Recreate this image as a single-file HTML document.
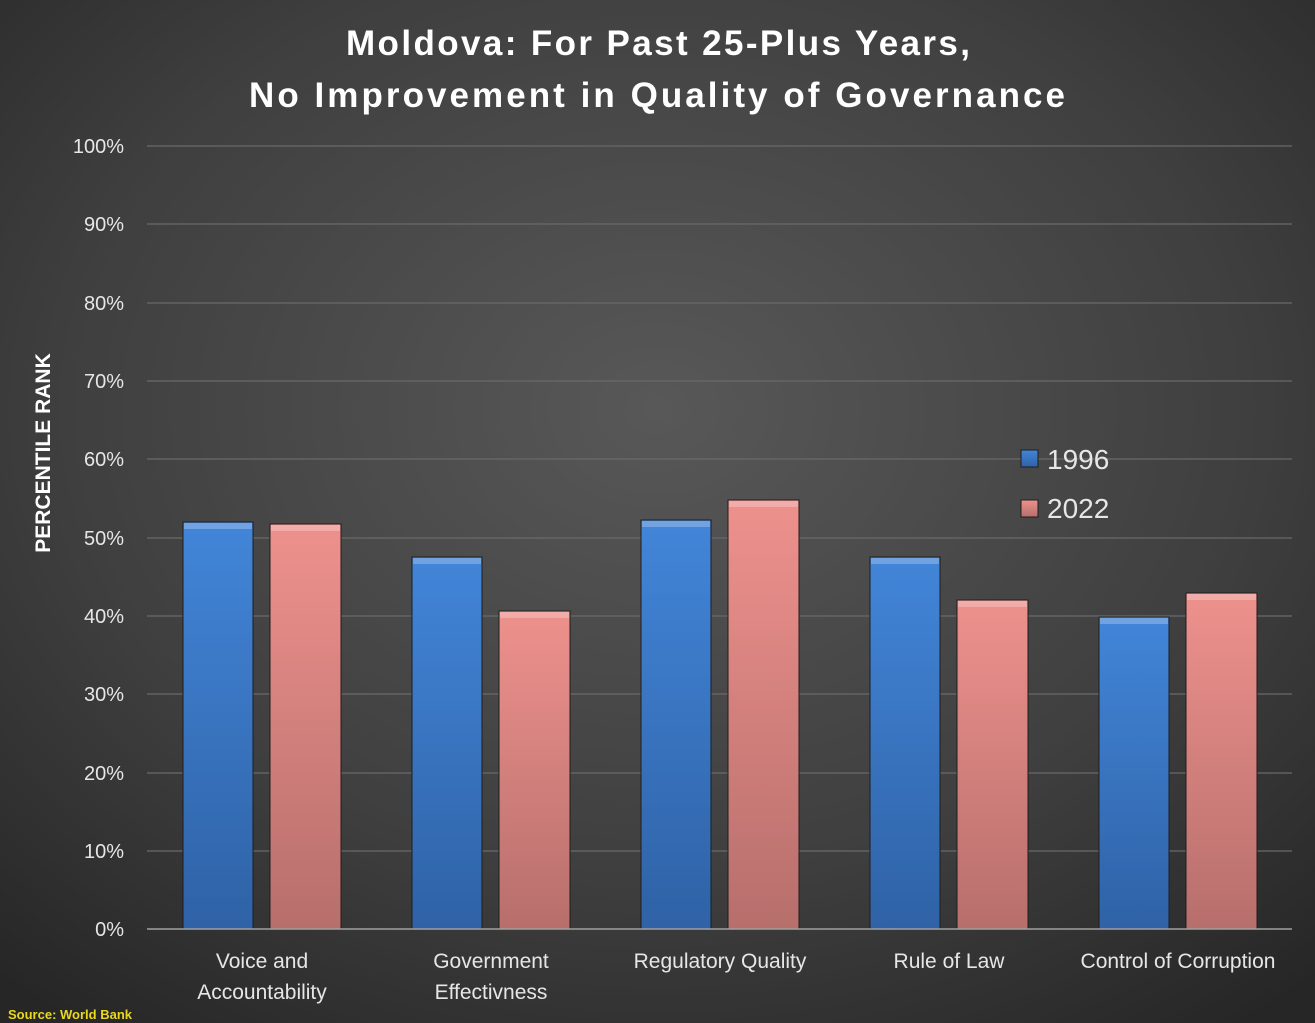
<!DOCTYPE html>
<html><head><meta charset="utf-8"><style>
html,body{margin:0;padding:0;width:1315px;height:1023px;overflow:hidden;background:#333}
svg{display:block}
text{font-family:"Liberation Sans",sans-serif}
</style></head><body>
<svg width="1315" height="1023" viewBox="0 0 1315 1023" xmlns="http://www.w3.org/2000/svg">
<defs>
<radialGradient id="bg" cx="50%" cy="40%" r="75%">
<stop offset="0" stop-color="#585858"/><stop offset="0.6" stop-color="#3f3f3f"/><stop offset="1" stop-color="#262626"/>
</radialGradient>
<linearGradient id="bl" x1="0" y1="0" x2="0" y2="1"><stop offset="0" stop-color="#4285d8"/><stop offset="1" stop-color="#2f62a6"/></linearGradient>
<linearGradient id="pk" x1="0" y1="0" x2="0" y2="1"><stop offset="0" stop-color="#ee918d"/><stop offset="1" stop-color="#b76f6c"/></linearGradient>
</defs>
<rect width="1315" height="1023" fill="url(#bg)"/>
<g font-weight="bold" font-size="35" fill="#fff">
<text x="346" y="55" textLength="624" lengthAdjust="spacing">Moldova: For Past 25-Plus Years,</text>
<text x="249" y="107" textLength="816" lengthAdjust="spacing">No Improvement in Quality of Governance</text>
</g>
<g stroke="#6a6a6a" stroke-width="1.3">
<line x1="147" x2="1292" y1="146" y2="146"/><line x1="147" x2="1292" y1="224" y2="224"/>
<line x1="147" x2="1292" y1="303" y2="303"/><line x1="147" x2="1292" y1="381" y2="381"/>
<line x1="147" x2="1292" y1="459" y2="459"/><line x1="147" x2="1292" y1="538" y2="538"/>
<line x1="147" x2="1292" y1="616" y2="616"/><line x1="147" x2="1292" y1="694" y2="694"/>
<line x1="147" x2="1292" y1="773" y2="773"/><line x1="147" x2="1292" y1="851" y2="851"/>
</g>
<g font-size="20" fill="#e6e6e6" text-anchor="end">
<text x="124" y="153">100%</text><text x="124" y="231">90%</text><text x="124" y="310">80%</text>
<text x="124" y="388">70%</text><text x="124" y="466">60%</text><text x="124" y="545">50%</text>
<text x="124" y="623">40%</text><text x="124" y="701">30%</text><text x="124" y="780">20%</text>
<text x="124" y="858">10%</text><text x="124" y="936">0%</text>
</g>
<text transform="translate(50,453) rotate(-90)" text-anchor="middle" font-size="21" font-weight="bold" fill="#fff">PERCENTILE RANK</text>
<g stroke="#1e1e1e" stroke-width="1">
<rect x="183" y="522" width="70" height="407" fill="url(#bl)"/>
<rect x="270" y="524" width="71" height="405" fill="url(#pk)"/>
<rect x="412" y="557" width="70" height="372" fill="url(#bl)"/>
<rect x="499" y="611" width="71" height="318" fill="url(#pk)"/>
<rect x="641" y="520" width="70" height="409" fill="url(#bl)"/>
<rect x="728" y="500" width="71" height="429" fill="url(#pk)"/>
<rect x="870" y="557" width="70" height="372" fill="url(#bl)"/>
<rect x="957" y="600" width="71" height="329" fill="url(#pk)"/>
<rect x="1099" y="617" width="70" height="312" fill="url(#bl)"/>
<rect x="1186" y="593" width="71" height="336" fill="url(#pk)"/>
</g>
<g fill="#fff" opacity="0.25">
<rect x="184" y="523" width="68" height="6"/><rect x="271" y="525" width="69" height="6"/>
<rect x="413" y="558" width="68" height="6"/><rect x="500" y="612" width="69" height="6"/>
<rect x="642" y="521" width="68" height="6"/><rect x="729" y="501" width="69" height="6"/>
<rect x="871" y="558" width="68" height="6"/><rect x="958" y="601" width="69" height="6"/>
<rect x="1100" y="618" width="68" height="6"/><rect x="1187" y="594" width="69" height="6"/>
</g>
<line x1="147" x2="1292" y1="929" y2="929" stroke="#a0a0a0" stroke-width="1.5"/>
<g font-size="21" fill="#e6e6e6" text-anchor="middle">
<text x="262" y="968">Voice and</text><text x="262" y="999">Accountability</text>
<text x="491" y="968">Government</text><text x="491" y="999">Effectivness</text>
<text x="720" y="968">Regulatory Quality</text>
<text x="949" y="968">Rule of Law</text>
<text x="1178" y="968">Control of Corruption</text>
</g>
<rect x="1021" y="450" width="17" height="17" fill="url(#bl)" stroke="#1e1e1e"/>
<rect x="1021" y="500" width="17" height="17" fill="url(#pk)" stroke="#1e1e1e"/>
<g font-size="28" fill="#e6e6e6"><text x="1047" y="469">1996</text><text x="1047" y="518">2022</text></g>
<text x="8" y="1019" font-size="13" font-weight="bold" fill="#e8d820">Source: World Bank</text>
</svg>
</body></html>
